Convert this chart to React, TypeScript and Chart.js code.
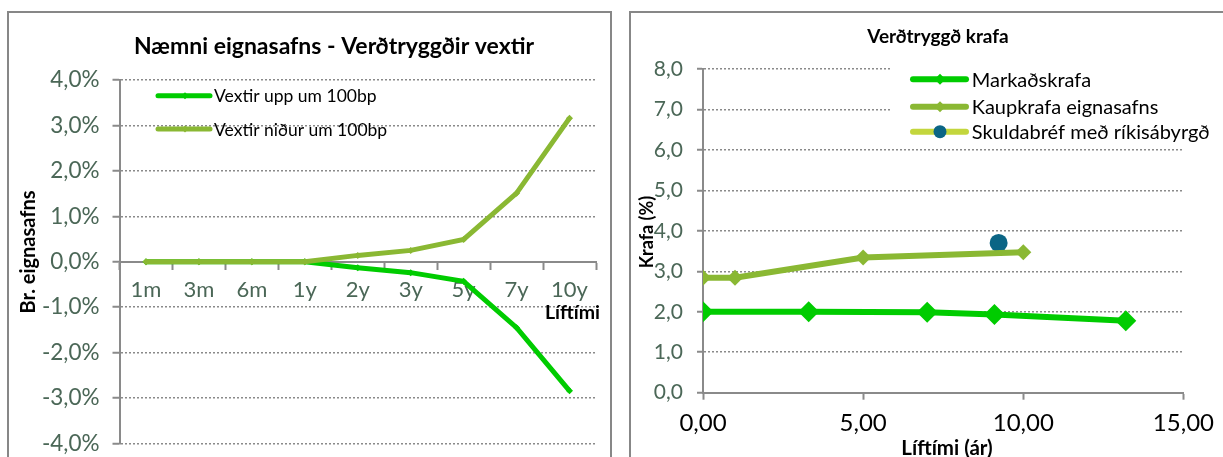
import React, { useEffect, useRef } from 'react';
import { Chart, registerables } from 'chart.js';

Chart.register(...registerables);

// ---------- data ----------
const leftCategories = ['1m', '3m', '6m', '1y', '2y', '3y', '5y', '7y', '10y'];
const vextirUpp = [0, 0, 0, 0, -0.13, -0.24, -0.43, -1.45, -2.84];
const vextirNidur = [0, 0, 0, 0, 0.14, 0.25, 0.49, 1.51, 3.16];
const leftYTicks = [-4, -3, -2, -1, 0, 1, 2, 3, 4];

const markadsX = [0, 3.3, 7.0, 9.1, 13.2];
const markadsY = [2.0, 2.0, 1.99, 1.93, 1.78];
const kaupX = [0, 1.0, 5.0, 10.0];
const kaupY = [2.84, 2.84, 3.34, 3.47];
const skuldX = [9.23];
const skuldY = [3.7];
const rightXTicks = [0, 5, 10, 15];
const rightYTicks = [0, 1, 2, 3, 4, 5, 6, 7, 8];

const leftTitle = 'Næmni eignasafns - Verðtryggðir vextir';
const leftYTitle = 'Br. eignasafns';
const leftXTitle = 'Líftími';
const leftLegend = ['Vextir upp um 100bp', 'Vextir niður um 100bp'];
const rightTitle = 'Verðtryggð krafa';
const rightYTitle = 'Krafa (%)';
const rightXTitle = 'Líftími (ár)';
const rightLegend = ['Markaðskrafa', 'Kaupkrafa eignasafns', 'Skuldabréf með ríkisábyrgð'];

// ---------- styles ----------
const FONT = 'Lato, "Open Sans", sans-serif';
const GREEN = '#00cc00';
const OLIVE = '#8ab833';
const TEAL = '#0b6585';
const YGREEN = '#c3d63d';
const GRID = '#8a8a8a';
const TICKTXT = '#4b6757';

const pts = (xs: number[], ys: number[]) => xs.map((x, i) => ({ x, y: ys[i] }));

function legendLine(ctx: CanvasRenderingContext2D, x1: number, x2: number, y: number, color: string, w: number) {
  ctx.save();
  ctx.strokeStyle = color;
  ctx.lineWidth = w;
  ctx.lineCap = 'round';
  ctx.beginPath();
  ctx.moveTo(x1, y);
  ctx.lineTo(x2, y);
  ctx.stroke();
  ctx.restore();
}
function diamond(ctx: CanvasRenderingContext2D, x: number, y: number, r: number, color: string) {
  ctx.save();
  ctx.fillStyle = color;
  ctx.beginPath();
  ctx.moveTo(x - r, y);
  ctx.lineTo(x, y - r);
  ctx.lineTo(x + r, y);
  ctx.lineTo(x, y + r);
  ctx.closePath();
  ctx.fill();
  ctx.restore();
}

const leftTextPlugin = {
  id: 'leftText',
  afterDraw(chart: any) {
    const ctx: CanvasRenderingContext2D = chart.ctx;
    ctx.save();
    ctx.fillStyle = '#000';
    ctx.textBaseline = 'middle';
    ctx.textAlign = 'center';
    ctx.font = `bold 23px ${FONT}`;
    ctx.fillText(leftTitle, 326, 35);
    ctx.font = `bold 19.5px ${FONT}`;
    ctx.fillText(leftXTitle, 564.5, 301);
    ctx.save();
    ctx.translate(21, 240);
    ctx.rotate(-Math.PI / 2);
    ctx.font = `bold 20px ${FONT}`;
    ctx.fillText(leftYTitle, 0, 0);
    ctx.restore();
    // legend
    const rows = [83.7, 117];
    const cols = [GREEN, OLIVE];
    ctx.textAlign = 'left';
    ctx.font = `17.5px ${FONT}`;
    rows.forEach((y, i) => {
      legendLine(ctx, 150, 202, y, cols[i], 5);
      diamond(ctx, 177, y, 3.5, cols[i]);
      ctx.fillStyle = '#000';
      ctx.fillText(leftLegend[i], 206, y + 1);
    });
    ctx.restore();
  },
};

const rightTextPlugin = {
  id: 'rightText',
  afterDraw(chart: any) {
    const ctx: CanvasRenderingContext2D = chart.ctx;
    ctx.save();
    ctx.fillStyle = '#fff';
    ctx.fillRect(262, 46, 304, 88);
    ctx.fillStyle = '#000';
    ctx.textBaseline = 'middle';
    ctx.textAlign = 'center';
    ctx.font = `bold 19px ${FONT}`;
    ctx.fillText(rightTitle, 308, 25);
    ctx.font = `bold 20.5px ${FONT}`;
    ctx.fillText(rightXTitle, 317, 436);
    ctx.save();
    ctx.translate(17.5, 220);
    ctx.rotate(-Math.PI / 2);
    ctx.font = `bold 18px ${FONT}`;
    ctx.fillText(rightYTitle, 0, 0);
    ctx.restore();
    const rows = [67.3, 94.7, 119.7];
    const cols = [GREEN, OLIVE, YGREEN];
    ctx.textAlign = 'left';
    ctx.font = `20px ${FONT}`;
    rows.forEach((y, i) => {
      legendLine(ctx, 283, 336, y, cols[i], 6);
      if (i < 2) diamond(ctx, 310, y, 5.5, cols[i]);
      else {
        ctx.fillStyle = TEAL;
        ctx.beginPath();
        ctx.arc(310, y, 6.5, 0, Math.PI * 2);
        ctx.fill();
      }
      ctx.fillStyle = '#000';
      ctx.fillText(rightLegend[i], 341.7, y + 1);
    });
    ctx.restore();
  },
};

function LeftChart() {
  const ref = useRef<HTMLCanvasElement>(null);
  useEffect(() => {
    const chart = new Chart(ref.current as HTMLCanvasElement, {
      type: 'line',
      data: {
        labels: leftCategories,
        datasets: [
          {
            label: leftLegend[0], data: vextirUpp, borderColor: GREEN, backgroundColor: GREEN,
            borderWidth: 5, pointStyle: 'rectRot', pointRadius: 3.5, pointBorderWidth: 0, tension: 0, order: 2,
          },
          {
            label: leftLegend[1], data: vextirNidur, borderColor: OLIVE, backgroundColor: OLIVE,
            borderWidth: 5, pointStyle: 'rectRot', pointRadius: 3.5, pointBorderWidth: 0, tension: 0, order: 1,
          },
        ],
      },
      options: {
        responsive: false,
        animation: false,
        devicePixelRatio: 1,
        layout: { padding: { top: 68, right: 15, bottom: 26, left: 0 } },
        plugins: { legend: { display: false }, title: { display: false }, tooltip: { enabled: false } },
        scales: {
          x: {
            type: 'category',
            position: { y: 0 } as any,
            offset: true,
            grid: {
              offset: true, drawOnChartArea: false, drawTicks: true, tickLength: 7,
              tickWidth: 2, tickColor: GRID, color: GRID,
            },
            border: { display: true, color: GRID, width: 2 },
            ticks: { color: TICKTXT, font: { size: 22, family: FONT }, padding: 8, maxRotation: 0, autoSkip: false },
          },
          y: {
            type: 'linear',
            min: -4,
            max: 4,
            afterBuildTicks: (s: any) => { s.ticks = leftYTicks.map((v) => ({ value: v })); },
            afterFit: (s: any) => { s.width = 111.5; },
            grid: {
              color: GRID, lineWidth: 1.5, drawTicks: true, tickLength: 7, tickColor: GRID, tickWidth: 2,
              tickBorderDash: [],
            } as any,
            border: { display: true, color: GRID, width: 2, dash: [2, 2] },
            ticks: {
              color: TICKTXT, font: { size: 22.5, family: FONT }, padding: 13,
              callback: (v: any) => Number(v).toFixed(1).replace('.', ',') + '%',
            },
          },
        },
      },
      plugins: [leftTextPlugin],
    } as any);
    return () => chart.destroy();
  }, []);
  return (
    <canvas ref={ref} width={603} height={458}
      style={{ position: 'absolute', left: 8, top: 12, width: 603, height: 458 }} />
  );
}

function RightChart() {
  const ref = useRef<HTMLCanvasElement>(null);
  useEffect(() => {
    const chart = new Chart(ref.current as HTMLCanvasElement, {
      type: 'line',
      data: {
        datasets: [
          {
            label: rightLegend[0], data: pts(markadsX, markadsY), borderColor: GREEN, backgroundColor: GREEN,
            borderWidth: 6, pointStyle: 'rectRot', pointRadius: 10.5, pointBorderWidth: 0, tension: 0,
          },
          {
            label: rightLegend[1], data: pts(kaupX, kaupY), borderColor: OLIVE, backgroundColor: OLIVE,
            borderWidth: 6, pointStyle: 'rectRot', pointRadius: 8, pointBorderWidth: 0, tension: 0,
          },
          {
            label: rightLegend[2], data: pts(skuldX, skuldY), borderColor: YGREEN, backgroundColor: TEAL,
            showLine: false, pointStyle: 'circle', pointRadius: 9, pointBorderWidth: 0, pointBackgroundColor: TEAL,
          },
        ],
      },
      options: {
        responsive: false,
        animation: false,
        devicePixelRatio: 1,
        layout: { padding: { top: 57, right: 34.4, bottom: 0, left: 0 } },
        plugins: { legend: { display: false }, title: { display: false }, tooltip: { enabled: false } },
        scales: {
          x: {
            type: 'linear',
            position: 'bottom',
            min: 0,
            max: 15,
            afterBuildTicks: (s: any) => { s.ticks = rightXTicks.map((v) => ({ value: v })); },
            afterFit: (s: any) => { s.height = 77.3; },
            grid: { drawOnChartArea: false, drawTicks: true, tickLength: 7, tickWidth: 2, tickColor: GRID, color: GRID },
            border: { display: true, color: GRID, width: 2 },
            ticks: {
              color: '#000', font: { size: 24, family: FONT }, padding: 9, maxRotation: 0,
              callback: (v: any) => Number(v).toFixed(2).replace('.', ','),
            },
          },
          y: {
            type: 'linear',
            min: 0,
            max: 8,
            afterBuildTicks: (s: any) => { s.ticks = rightYTicks.map((v) => ({ value: v })); },
            afterFit: (s: any) => { s.width = 73; },
            grid: {
              color: GRID, lineWidth: 1.5, drawTicks: true, tickLength: 6, tickColor: GRID, tickWidth: 2,
              tickBorderDash: [],
            } as any,
            border: { display: true, color: GRID, width: 2, dash: [2, 2] },
            ticks: {
              color: TICKTXT, font: { size: 21, family: FONT }, padding: 14,
              callback: (v: any) => Number(v).toFixed(1).replace('.', ','),
            },
          },
        },
      },
      plugins: [rightTextPlugin],
    } as any);
    return () => chart.destroy();
  }, []);
  return (
    <canvas ref={ref} width={593} height={458}
      style={{ position: 'absolute', left: 630, top: 12, width: 593, height: 458 }} />
  );
}

export default function App() {
  return (
    <div style={{ position: 'absolute', left: 0, top: 0, width: 1223, height: 457, overflow: 'hidden', background: '#fff' }}>
      <div style={{ position: 'absolute', left: 7, top: 11, width: 601, height: 470, border: '2px solid #878787' }} />
      <div style={{ position: 'absolute', left: 629, top: 11, width: 640, height: 470, border: '2px solid #878787' }} />
      <LeftChart />
      <RightChart />
    </div>
  );
}
